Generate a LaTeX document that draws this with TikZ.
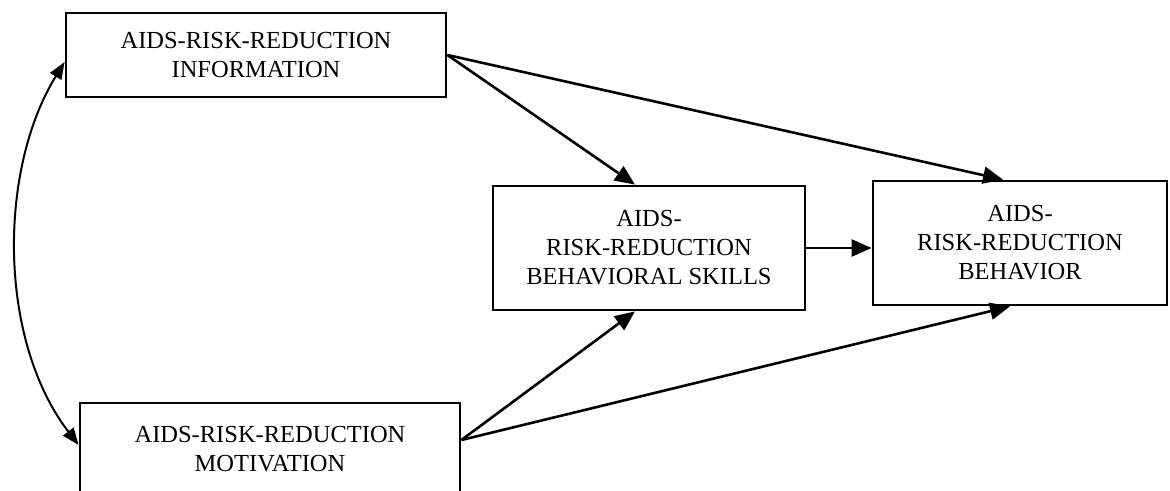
\documentclass[tikz,border=0pt]{standalone}
\usepackage{fontspec}
\setmainfont{Liberation Serif}
\usetikzlibrary{arrows.meta}
\begin{document}
\begin{tikzpicture}[x=1pt,y=-1pt,
  box/.style={draw, line width=2.8pt, align=center, inner sep=0pt,
    font=\fontsize{24.5}{29}\selectfont},
  link/.style={line width=2.6pt, -{Triangle[length=20pt,width=17pt]}},
  both/.style={line width=2pt, {Triangle[length=17pt,width=13pt]}-{Triangle[length=17pt,width=13pt]}}]
\useasboundingbox (0,0) rectangle (1170,490);
\node[box, minimum width=380pt, minimum height=84pt] (info) at (256,55) {AIDS-RISK-REDUCTION\\INFORMATION};
\node[box, minimum width=380pt, minimum height=92pt] (mot) at (270,449) {AIDS-RISK-REDUCTION\\MOTIVATION};
\node[box, minimum width=312pt, minimum height=124pt] (skills) at (649,248) {AIDS-\\RISK-REDUCTION\\BEHAVIORAL SKILLS};
\node[box, minimum width=294pt, minimum height=124pt] (beh) at (1020,243) {AIDS-\\RISK-REDUCTION\\BEHAVIOR};
\coordinate (io) at (info.east);
\coordinate (mo) at ([yshift=9pt]mot.east);
\draw[link] (io) -- ([xshift=-14pt]skills.north);
\draw[link] (io) -- ([xshift=-17pt]beh.north);
\draw[link] (skills.east) -- (skills.east -| beh.west);
\draw[link] (mo) -- ([xshift=-14pt]skills.south);
\draw[link] (mo) -- ([xshift=-10pt]beh.south);
\draw[both] ([yshift=-7pt]info.west) .. controls (-2,170) and (-2,340) .. ([yshift=4pt]mot.west);
\end{tikzpicture}
\end{document}
